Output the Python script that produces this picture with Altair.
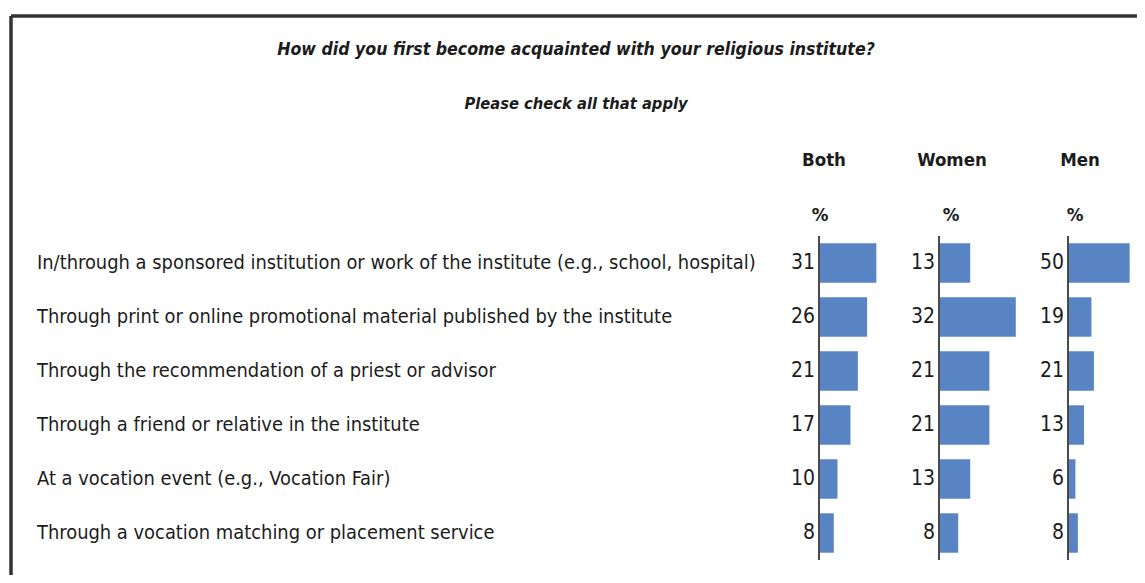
import altair as alt
import pandas as pd

categories = [
    "In/through a sponsored institution or work of the institute (e.g., school, hospital)",
    "Through print or online promotional material published by the institute",
    "Through the recommendation of a priest or advisor",
    "Through a friend or relative in the institute",
    "At a vocation event (e.g., Vocation Fair)",
    "Through a vocation matching or placement service",
]
groups = ["Both", "Women", "Men"]
both = [31, 26, 21, 17, 10, 8]
women = [13, 32, 21, 21, 13, 8]
men = [50, 19, 21, 13, 6, 8]
title_lines = [
    "How did you first become acquainted with your religious institute?",
    "Please check all that apply",
]
unit_label = "%"

FONT = "Liberation Sans Narrow, Arial Narrow, DejaVu Sans Condensed, sans-serif"
BLUE = "#5884C3"
TXT = "#1c1c1c"

rows = []
for g, vals in zip(groups, [both, women, men]):
    for c, v in zip(categories, vals):
        rows.append({"cat": c, "group": g, "value": v, "zero": 0})
df = pd.DataFrame(rows)

W, H = 1126, 559
yscale = alt.Scale(domain=categories, range=[220, 544], paddingInner=0.27, paddingOuter=0.135)

border_top = alt.Chart(pd.DataFrame({"a": [0]})).mark_rule(color="#333", strokeWidth=3.5).encode(
    x=alt.value(0), x2=alt.value(W), y=alt.value(0))
border_left = alt.Chart(pd.DataFrame({"a": [0]})).mark_rule(color="#333", strokeWidth=3.5).encode(
    x=alt.value(0), y=alt.value(0), y2=alt.value(H))

title_df = pd.DataFrame({"t": title_lines, "line": [0, 1]})
title1 = alt.Chart(title_df.iloc[[0]]).mark_text(
    font=FONT, fontSize=17.6, fontWeight="bold", fontStyle="italic", color=TXT,
    align="center", baseline="middle").encode(x=alt.value(565), y=alt.value(34), text="t:N")
title2 = alt.Chart(title_df.iloc[[1]]).mark_text(
    font=FONT, fontSize=16.4, fontWeight="bold", fontStyle="italic", color=TXT,
    align="center", baseline="middle").encode(x=alt.value(565), y=alt.value(88), text="t:N")

labels = alt.Chart(pd.DataFrame({"cat": categories})).mark_text(
    font=FONT, fontSize=19.9, color=TXT, align="left", baseline="middle").encode(
    x=alt.value(26), y=alt.Y("cat:N", scale=yscale, axis=None, sort=categories), text="cat:N")


def panel(g, axis_px, length, dmax, head_dx, pct_dx):
    d = df[df.group == g]
    xs = alt.Scale(domain=[0, dmax], range=[axis_px, axis_px + length])
    xenc = alt.X("value:Q", scale=xs, axis=None)
    zenc = alt.X("zero:Q", scale=xs, axis=None)
    yenc = alt.Y("cat:N", scale=yscale, axis=None, sort=categories)
    bars = alt.Chart(d).mark_bar(color=BLUE).encode(x=xenc, y=yenc)
    vals = alt.Chart(d).mark_text(font=FONT, fontSize=21, color=TXT, align="right",
                                  baseline="middle", dx=-4).encode(x=zenc, y=yenc, text="value:Q")
    one = pd.DataFrame({"zero": [0], "h": [g], "p": [unit_label]})
    rule = alt.Chart(one).mark_rule(color="#4a4a4a", strokeWidth=2).encode(
        x=zenc, y=alt.value(220), y2=alt.value(544))
    head = alt.Chart(one).mark_text(font=FONT, fontSize=18.5, fontWeight="bold", color=TXT,
                                    align="center", baseline="middle", dx=head_dx).encode(
        x=zenc, y=alt.value(144), text="h:N")
    pct = alt.Chart(one).mark_text(font=FONT, fontSize=18.5, fontWeight="bold", color=TXT,
                                   align="center", baseline="middle", dx=pct_dx).encode(
        x=zenc, y=alt.value(199), text="p:N")
    return alt.layer(bars, vals, rule, head, pct)


p_both = panel("Both", 808, 64.75, 35, 5, 1)
p_women = panel("Women", 928, 84, 35, 13, 12)
p_men = panel("Men", 1057, 74, 60, 12, 7)

chart = alt.layer(
    border_top, border_left, title1, title2, labels, p_both, p_women, p_men
).resolve_scale(x="independent").properties(
    width=W, height=H,
    padding={"left": 3, "top": 8, "right": 0, "bottom": 0},
    autosize=alt.AutoSizeParams(type="none"),
    background="white",
).configure_view(stroke=None)

chart.save("out.html", embed_options={"renderer": "svg", "actions": False})
